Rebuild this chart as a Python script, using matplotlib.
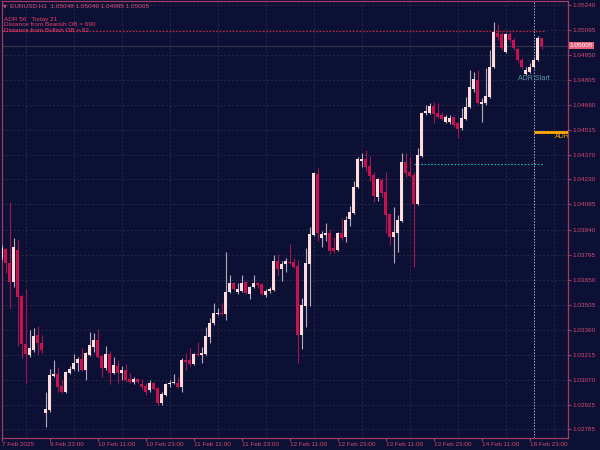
import matplotlib
matplotlib.use("Agg")
import matplotlib.pyplot as plt

# EURUSD H1 bars
opens = [1.03775, 1.03827, 1.03746, 1.03636, 1.03821, 1.03555, 1.03277, 1.03213, 1.03242, 1.03329,
         1.03283, 1.02878, 1.02895, 1.03092, 1.03104, 1.03034, 1.02999, 1.03109, 1.03133, 1.03167,
         1.03190, 1.03127, 1.03213, 1.03260, 1.03300, 1.03208, 1.03138, 1.03219, 1.03109, 1.03150,
         1.03109, 1.03127, 1.03075, 1.03057, 1.03075, 1.03046, 1.03034, 1.03011, 1.03051, 1.03023,
         1.02936, 1.02982, 1.03046, 1.03051, 1.03051, 1.03028, 1.03185, 1.03185, 1.03161, 1.03219,
         1.03213, 1.03219, 1.03318, 1.03399, 1.03451, 1.03457, 1.03451, 1.03578, 1.03630, 1.03578,
         1.03584, 1.03636, 1.03567, 1.03607, 1.03630, 1.03625, 1.03561, 1.03584, 1.03590, 1.03758,
         1.03712, 1.03740, 1.03752, 1.03752, 1.03729, 1.03329, 1.03497, 1.03740, 1.03908, 1.04262,
         1.03891, 1.03908, 1.03920, 1.03833, 1.03821, 1.03920, 1.03897, 1.04001, 1.04036, 1.04186,
         1.04337, 1.04348, 1.04308, 1.04256, 1.04128, 1.04227, 1.04157, 1.04030, 1.03897, 1.03920,
         1.03989, 1.04331, 1.04273, 1.04256, 1.04088, 1.04366, 1.04615, 1.04615, 1.04655, 1.04615,
         1.04603, 1.04563, 1.04563, 1.04592, 1.04557, 1.04528, 1.04580, 1.04650, 1.04754, 1.04806,
         1.04667, 1.04673, 1.04707, 1.04881, 1.05078, 1.05072, 1.04968, 1.05072, 1.05037, 1.04985,
         1.04922, 1.04841, 1.04852, 1.04881, 1.04922, 1.05048]
highs = [1.03850, 1.03833, 1.04099, 1.03891, 1.03879, 1.03560, 1.03596, 1.03358, 1.03370, 1.03381,
         1.03329, 1.02999, 1.03133, 1.03185, 1.03144, 1.03069, 1.03121, 1.03150, 1.03219, 1.03202,
         1.03254, 1.03231, 1.03347, 1.03341, 1.03364, 1.03213, 1.03266, 1.03237, 1.03202, 1.03185,
         1.03150, 1.03161, 1.03109, 1.03086, 1.03080, 1.03075, 1.03051, 1.03069, 1.03057, 1.03028,
         1.02999, 1.03051, 1.03069, 1.03104, 1.03086, 1.03196, 1.03225, 1.03254, 1.03225, 1.03289,
         1.03260, 1.03376, 1.03428, 1.03515, 1.03486, 1.03515, 1.03810, 1.03677, 1.03636, 1.03630,
         1.03677, 1.03642, 1.03613, 1.03677, 1.03636, 1.03630, 1.03596, 1.03607, 1.03793, 1.03798,
         1.03758, 1.03775, 1.03856, 1.03775, 1.03764, 1.03544, 1.03833, 1.03955, 1.04273, 1.04296,
         1.03932, 1.03978, 1.03943, 1.03897, 1.03925, 1.04007, 1.04018, 1.04076, 1.04221, 1.04360,
         1.04383, 1.04400, 1.04366, 1.04273, 1.04238, 1.04238, 1.04273, 1.04036, 1.04070, 1.04024,
         1.04383, 1.04383, 1.04360, 1.04273, 1.04412, 1.04621, 1.04661, 1.04673, 1.04678, 1.04673,
         1.04621, 1.04603, 1.04603, 1.04597, 1.04563, 1.04644, 1.04707, 1.04864, 1.04852, 1.04864,
         1.04702, 1.04875, 1.04980, 1.05142, 1.05130, 1.05084, 1.05078, 1.05084, 1.05049, 1.04991,
         1.04933, 1.04881, 1.04904, 1.04939, 1.05061, 1.05049]
lows = [1.03764, 1.03688, 1.03486, 1.03607, 1.03266, 1.03196, 1.03051, 1.03202, 1.03231, 1.03219,
        1.03225, 1.02797, 1.02884, 1.03086, 1.02999, 1.02994, 1.02994, 1.03104, 1.03127, 1.03121,
        1.03121, 1.03069, 1.03208, 1.03231, 1.03196, 1.03086, 1.03127, 1.03046, 1.03104, 1.03051,
        1.03069, 1.03057, 1.03051, 1.03046, 1.03051, 1.03017, 1.02982, 1.02999, 1.03011, 1.02924,
        1.02924, 1.02976, 1.03028, 1.03046, 1.03023, 1.02999, 1.03127, 1.03150, 1.03156, 1.03208,
        1.03167, 1.03213, 1.03283, 1.03387, 1.03445, 1.03445, 1.03416, 1.03572, 1.03590, 1.03567,
        1.03578, 1.03567, 1.03538, 1.03602, 1.03602, 1.03561, 1.03549, 1.03572, 1.03585, 1.03677,
        1.03642, 1.03694, 1.03740, 1.03717, 1.03167, 1.03248, 1.03376, 1.03497, 1.03903, 1.03874,
        1.03839, 1.03874, 1.03798, 1.03804, 1.03816, 1.03879, 1.03868, 1.03960, 1.04030, 1.04180,
        1.04302, 1.04273, 1.04221, 1.04099, 1.04105, 1.04128, 1.03920, 1.03850, 1.03746, 1.03810,
        1.03984, 1.04244, 1.04244, 1.03723, 1.04082, 1.04360, 1.04603, 1.04609, 1.04557, 1.04586,
        1.04574, 1.04557, 1.04551, 1.04534, 1.04470, 1.04516, 1.04574, 1.04644, 1.04736, 1.04667,
        1.04563, 1.04661, 1.04702, 1.04875, 1.05037, 1.04980, 1.04962, 1.05026, 1.04980, 1.04910,
        1.04875, 1.04836, 1.04847, 1.04875, 1.04916, 1.04985]
closes = [1.03833, 1.03746, 1.03636, 1.03839, 1.03549, 1.03277, 1.03219, 1.03254, 1.03324, 1.03283,
          1.03242, 1.02901, 1.03098, 1.03104, 1.03028, 1.02999, 1.03115, 1.03133, 1.03167, 1.03190,
          1.03127, 1.03225, 1.03271, 1.03300, 1.03202, 1.03138, 1.03219, 1.03109, 1.03156, 1.03109,
          1.03127, 1.03069, 1.03057, 1.03075, 1.03057, 1.03028, 1.02999, 1.03051, 1.03017, 1.02936,
          1.02988, 1.03046, 1.03051, 1.03057, 1.03028, 1.03185, 1.03173, 1.03161, 1.03219, 1.03213,
          1.03225, 1.03324, 1.03399, 1.03457, 1.03457, 1.03451, 1.03578, 1.03630, 1.03596, 1.03596,
          1.03630, 1.03572, 1.03607, 1.03630, 1.03619, 1.03567, 1.03584, 1.03596, 1.03758, 1.03712,
          1.03740, 1.03758, 1.03746, 1.03723, 1.03329, 1.03503, 1.03746, 1.03914, 1.04267, 1.03920,
          1.03914, 1.03920, 1.03816, 1.03816, 1.03920, 1.03891, 1.03995, 1.04041, 1.04186, 1.04348,
          1.04348, 1.04302, 1.04250, 1.04134, 1.04233, 1.04152, 1.04024, 1.03897, 1.03926, 1.03995,
          1.04331, 1.04267, 1.04250, 1.04088, 1.04372, 1.04615, 1.04626, 1.04655, 1.04609, 1.04592,
          1.04580, 1.04592, 1.04586, 1.04545, 1.04522, 1.04586, 1.04650, 1.04765, 1.04812, 1.04673,
          1.04678, 1.04713, 1.04881, 1.05084, 1.05055, 1.04991, 1.05072, 1.05037, 1.04991, 1.04922,
          1.04881, 1.04864, 1.04881, 1.04922, 1.05048, 1.05005]

xtick_idx = [0, 12, 24, 36, 48, 60, 72, 84, 96, 108, 120, 132]
xtick_labels = ['7 Feb 2025', '9 Feb 23:00', '10 Feb 11:00', '10 Feb 23:00', '11 Feb 11:00',
                '11 Feb 23:00', '12 Feb 11:00', '12 Feb 23:00', '13 Feb 11:00', '13 Feb 23:00',
                '14 Feb 11:00', '16 Feb 23:00']
yticks = [1.05240, 1.05095, 1.04950, 1.04805, 1.04660, 1.04515, 1.04370, 1.04230, 1.04085,
          1.03940, 1.03795, 1.03650, 1.03505, 1.03360, 1.03215, 1.03070, 1.02925, 1.02785]

bid = 1.05005
bearish_ob = 1.05090      # red dotted line
bullish_ob = 1.04320      # teal dotted line
bullish_ob_start = 103
adr_level = 1.04503       # orange line
adr_start = 133           # dotted vertical separator
adr_start_label_y = 1.04817

header = 'EURUSD,H1  1.05048 1.05049 1.04985 1.05005'
info_lines = ['ADR 56   Today 21', 'Distance from Bearish OB = 690', 'Distance from Bullish OB = 82']

BG = '#0d1035'
GRID = '#262947'
AXIS = '#9e3c64'
LABEL = '#d24a74'
BULL = '#ffdcdc'
BEAR = '#c8124f'
FONT = 'Liberation Sans'
FS = 4.6

fig = plt.figure(figsize=(6, 4.5), dpi=100, facecolor=BG)
ax = fig.add_axes([1.5 / 600, 12 / 450, 566.5 / 600, 437 / 450], facecolor=BG)

n = len(opens)
for i in range(n):
    o, h, l, c = opens[i], highs[i], lows[i], closes[i]
    up = c >= o
    ax.vlines(i, l, h, color='#b4aab8' if up else '#a0184f', lw=0.8, zorder=3)
    body = max(abs(c - o), 0.00004)
    ax.bar(i, body, bottom=min(o, c), width=0.72, color=BULL if up else BEAR, lw=0, zorder=4)

# levels
ax.axhline(bid, color='#33344a', lw=0.8, zorder=2)
ax.hlines(bearish_ob, -1, n, color='#c8203e', lw=0.8, linestyles=(0, (1.5, 1.5)), zorder=2)
ax.hlines(bullish_ob, bullish_ob_start, n - 0.5, color='#1fb0b0', lw=0.8, linestyles=(0, (1.5, 1.5)), zorder=2)
ax.axvline(adr_start, color='#aeb2c6', lw=0.7, ls=(0, (1.5, 1.5)), zorder=2)
ax.hlines(adr_level, adr_start, 150, color='#ffaa00', lw=2.0, zorder=5)
ax.text(adr_start, adr_start_label_y, 'ADR Start', color='#5d9aa6', fontsize=FS + 0.4,
        family=FONT, ha='center', va='center', zorder=6)
ax.text(138.4, adr_level - 0.00022, 'ADR', color='#e6a21c', fontsize=FS + 0.4, family=FONT,
        ha='left', va='center', clip_on=True, zorder=6)

ax.set_xlim(0, 141.625)
ax.set_ylim(1.02733, 1.05263)

ax.set_xticks(xtick_idx)
ax.set_xticklabels(xtick_labels, ha='left', family=FONT, fontsize=FS, color=LABEL)
ax.set_xticks(list(range(0, 142, 6)), minor=True)
ax.yaxis.tick_right()
ax.set_yticks(yticks)
ax.set_yticklabels(['%.5f' % v for v in yticks], family=FONT, fontsize=FS, color=LABEL)
ax.tick_params(axis='x', which='major', length=2.2, width=0.8, color=AXIS, pad=1.0)
ax.tick_params(axis='x', which='minor', length=0)
ax.tick_params(axis='y', length=2, width=0.8, color=AXIS, pad=1.2)
ax.grid(which='minor', axis='x', color=GRID, lw=0.7, ls=(0, (2, 2)), zorder=0)
ax.grid(which='major', axis='y', color=GRID, lw=0.7, ls=(0, (2, 2)), zorder=0)
ax.set_axisbelow(True)
for s in ax.spines.values():
    s.set_color(AXIS)
    s.set_linewidth(0.9)

# current price tag
ax.text(1.003, bid, '%.5f' % bid, transform=ax.get_yaxis_transform(), ha='left', va='center',
        fontsize=FS, family=FONT, color='white', clip_on=False, zorder=7,
        bbox=dict(boxstyle='square,pad=0.18', fc='#e4627c', ec='none'))

# header texts
fig.text(3 / 600, 1 - 6 / 450, '▼', fontsize=3.5, color=LABEL, family=['DejaVu Sans'], va='center')
fig.text(10 / 600, 1 - 6 / 450, header, fontsize=FS, color='#e0507a', family=FONT, va='center')
for line, yp in zip(info_lines, [19, 25, 31]):
    fig.text(4 / 600, 1 - yp / 450, line, fontsize=FS, color='#e8406a', family=FONT, va='center')

fig.savefig('out.png', dpi=100, facecolor=BG)
